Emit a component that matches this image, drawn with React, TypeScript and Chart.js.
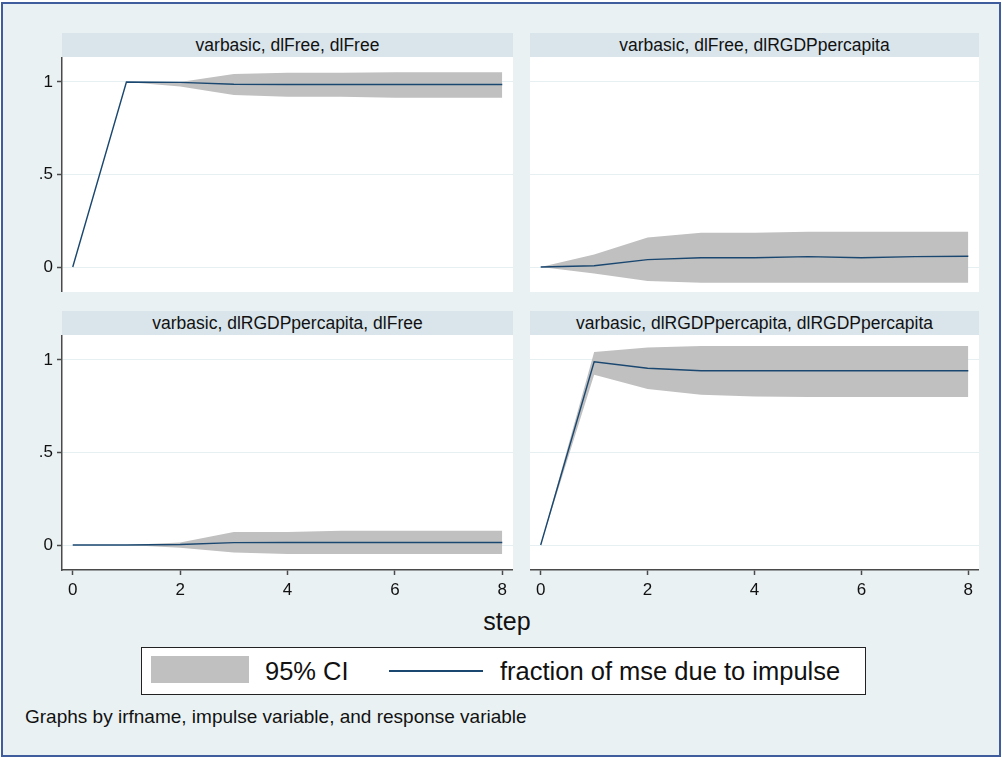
import React, { useEffect, useRef } from "react";
import { Chart, registerables } from "chart.js";

Chart.register(...registerables);

// ---- data ----
const STEPS = [0, 1, 2, 3, 4, 5, 6, 7, 8];
const X_TICKS = [0, 2, 4, 6, 8];
const Y_TICKS = [0, 0.5, 1];

const TITLES = [
  "varbasic, dlFree, dlFree",
  "varbasic, dlFree, dlRGDPpercapita",
  "varbasic, dlRGDPpercapita, dlFree",
  "varbasic, dlRGDPpercapita, dlRGDPpercapita",
];

// dlFree -> dlFree
const FF_LINE = [0, 1, 0.998, 0.988, 0.986, 0.986, 0.986, 0.986, 0.986];
const FF_LO = [0, 1, 0.975, 0.93, 0.92, 0.92, 0.915, 0.915, 0.915];
const FF_HI = [0, 1, 1.0, 1.043, 1.05, 1.05, 1.052, 1.052, 1.052];

// dlFree -> dlRGDPpercapita
const FR_LINE = [0, 0.007, 0.04, 0.05, 0.05, 0.056, 0.05, 0.056, 0.058];
const FR_LO = [0, -0.035, -0.076, -0.085, -0.085, -0.085, -0.085, -0.085, -0.085];
const FR_HI = [0, 0.068, 0.16, 0.185, 0.185, 0.19, 0.19, 0.19, 0.19];

// dlRGDPpercapita -> dlFree
const RF_LINE = [0, 0, 0.003, 0.013, 0.014, 0.014, 0.014, 0.014, 0.014];
const RF_LO = [0, 0, -0.015, -0.04, -0.049, -0.049, -0.049, -0.049, -0.049];
const RF_HI = [0, 0, 0.014, 0.07, 0.07, 0.077, 0.077, 0.077, 0.077];

// dlRGDPpercapita -> dlRGDPpercapita
const RR_LINE = [0, 0.99, 0.955, 0.942, 0.942, 0.942, 0.942, 0.942, 0.942];
const RR_LO = [0, 0.92, 0.843, 0.812, 0.803, 0.8, 0.8, 0.8, 0.8];
const RR_HI = [0, 1.043, 1.068, 1.075, 1.075, 1.075, 1.075, 1.075, 1.075];

const LEGEND_CI = "95% CI";
const LEGEND_LINE = "fraction of mse due to impulse";
const X_TITLE = "step";
const CAPTION = "Graphs by irfname, impulse variable, and response variable";

// ---- styles ----
const FONT = '"Liberation Sans", Arial, sans-serif';
const BG = "#eaf1f3";
const STRIP = "#d9e5eb";
const BAND = "#c0c0c0";
const LINE = "#1a476f";
const AXIS = "#4a4a4a";
const TEXT = "#111111";

const toPts = (arr: number[]) => arr.map((v, i) => ({ x: STEPS[i], y: v }));

const whiteArea = {
  id: "whiteArea",
  beforeDraw(chart: any) {
    const { ctx, chartArea } = chart;
    ctx.save();
    ctx.fillStyle = "#ffffff";
    ctx.fillRect(chartArea.left, chartArea.top, chartArea.right - chartArea.left, chartArea.bottom - chartArea.top);
    ctx.restore();
  },
};

type PanelProps = {
  left: number;
  top: number;
  width: number;
  height: number;
  showY: boolean;
  showX: boolean;
  line: number[];
  lo: number[];
  hi: number[];
};

function Panel(p: PanelProps) {
  const ref = useRef<HTMLCanvasElement | null>(null);
  useEffect(() => {
    if (!ref.current) return;
    const chart = new Chart(ref.current, {
      type: "line",
      data: {
        datasets: [
          {
            data: toPts(p.hi),
            borderWidth: 0,
            borderColor: "rgba(0,0,0,0)",
            pointRadius: 0,
            fill: "+1",
            backgroundColor: BAND,
            order: 2,
          },
          {
            data: toPts(p.lo),
            borderWidth: 0,
            borderColor: "rgba(0,0,0,0)",
            pointRadius: 0,
            fill: false,
            order: 2,
          },
          {
            data: toPts(p.line),
            borderWidth: 1.4,
            borderColor: LINE,
            pointRadius: 0,
            fill: false,
            order: 1,
          },
        ],
      } as any,
      options: {
        animation: false,
        responsive: false,
        devicePixelRatio: 1,
        layout: { padding: 0 },
        plugins: { legend: { display: false }, tooltip: { enabled: false } },
        scales: {
          x: {
            type: "linear",
            min: -0.2,
            max: 8.2,
            display: p.showX,
            afterBuildTicks: (s: any) => {
              s.ticks = X_TICKS.map((v) => ({ value: v }));
            },
            ticks: { color: TEXT, font: { family: FONT, size: 17 }, padding: 5, maxRotation: 0 },
            grid: { drawOnChartArea: false, drawTicks: true, tickLength: 5, tickColor: AXIS, tickWidth: 1.5 },
            border: { color: AXIS, width: 1.5 },
            afterFit: (s: any) => {
              s.height = p.showX ? 30 : 0;
              s.paddingLeft = 0;
              s.paddingRight = 0;
            },
          },
          y: {
            type: "linear",
            min: -0.135,
            max: 1.135,
            afterBuildTicks: (s: any) => {
              s.ticks = Y_TICKS.map((v) => ({ value: v }));
            },
            ticks: {
              display: p.showY,
              color: TEXT,
              font: { family: FONT, size: 17 },
              padding: 4,
              callback: (v: any) => (v === 0.5 ? ".5" : String(v)),
            },
            grid: {
              color: "#e6eff2",
              lineWidth: 1,
              drawTicks: p.showY,
              tickLength: 5,
              tickColor: AXIS,
              tickWidth: 1.5,
            },
            border: { display: p.showY, color: AXIS, width: 1.5 },
            afterFit: (s: any) => {
              s.width = p.showY ? 42 : 0;
              s.paddingTop = 0;
              s.paddingBottom = 0;
            },
          },
        },
      } as any,
      plugins: [whiteArea],
    });
    return () => chart.destroy();
  }, []);
  return (
    <canvas
      ref={ref}
      width={p.width}
      height={p.height}
      style={{ position: "absolute", left: p.left, top: p.top, width: p.width, height: p.height }}
    />
  );
}

function Strip({ left, top, width, text }: { left: number; top: number; width: number; text: string }) {
  return (
    <div
      style={{
        position: "absolute",
        left,
        top,
        width,
        height: 24,
        background: STRIP,
        color: TEXT,
        fontFamily: FONT,
        fontSize: 17.5,
        lineHeight: "24px",
        textAlign: "center",
        whiteSpace: "nowrap",
      }}
    >
      {text}
    </div>
  );
}

export default function App() {
  return (
    <div
      style={{
        position: "absolute",
        left: 0,
        top: 0,
        width: 1002,
        height: 758,
        background: "#ffffff",
        overflow: "hidden",
      }}
    >
      <div
        style={{
          position: "absolute",
          left: 1,
          top: 2,
          width: 996,
          height: 751,
          background: BG,
          border: "2px solid #3f5c9c",
        }}
      />
      <Strip left={62} top={33} width={451} text={TITLES[0]} />
      <Strip left={530} top={33} width={449} text={TITLES[1]} />
      <Strip left={62} top={311} width={451} text={TITLES[2]} />
      <Strip left={530} top={311} width={449} text={TITLES[3]} />

      <Panel left={20} top={57} width={493} height={235} showY={true} showX={false} line={FF_LINE} lo={FF_LO} hi={FF_HI} />
      <Panel left={530} top={57} width={449} height={235} showY={false} showX={false} line={FR_LINE} lo={FR_LO} hi={FR_HI} />
      <Panel left={20} top={335} width={493} height={265} showY={true} showX={true} line={RF_LINE} lo={RF_LO} hi={RF_HI} />
      <Panel left={530} top={335} width={449} height={265} showY={false} showX={true} line={RR_LINE} lo={RR_LO} hi={RR_HI} />

      <div
        style={{
          position: "absolute",
          left: 507,
          top: 605,
          transform: "translateX(-50%)",
          fontFamily: FONT,
          fontSize: 25,
          lineHeight: "32px",
          color: TEXT,
          whiteSpace: "nowrap",
        }}
      >
        {X_TITLE}
      </div>

      <div
        style={{
          position: "absolute",
          left: 141,
          top: 647,
          width: 723,
          height: 46,
          background: "#ffffff",
          border: "1px solid #222",
        }}
      >
        <div style={{ position: "absolute", left: 9, top: 8, width: 98, height: 27, background: BAND }} />
        <div
          style={{
            position: "absolute",
            left: 123,
            top: 0,
            lineHeight: "46px",
            fontFamily: FONT,
            fontSize: 25.5,
            color: TEXT,
            whiteSpace: "nowrap",
          }}
        >
          {LEGEND_CI}
        </div>
        <div style={{ position: "absolute", left: 247, top: 22, width: 94, height: 2, background: LINE }} />
        <div
          style={{
            position: "absolute",
            left: 358,
            top: 0,
            lineHeight: "46px",
            fontFamily: FONT,
            fontSize: 25.5,
            color: TEXT,
            whiteSpace: "nowrap",
          }}
        >
          {LEGEND_LINE}
        </div>
      </div>

      <div
        style={{
          position: "absolute",
          left: 25,
          top: 705,
          lineHeight: "24px",
          fontFamily: FONT,
          fontSize: 19,
          color: TEXT,
          whiteSpace: "nowrap",
        }}
      >
        {CAPTION}
      </div>
    </div>
  );
}
